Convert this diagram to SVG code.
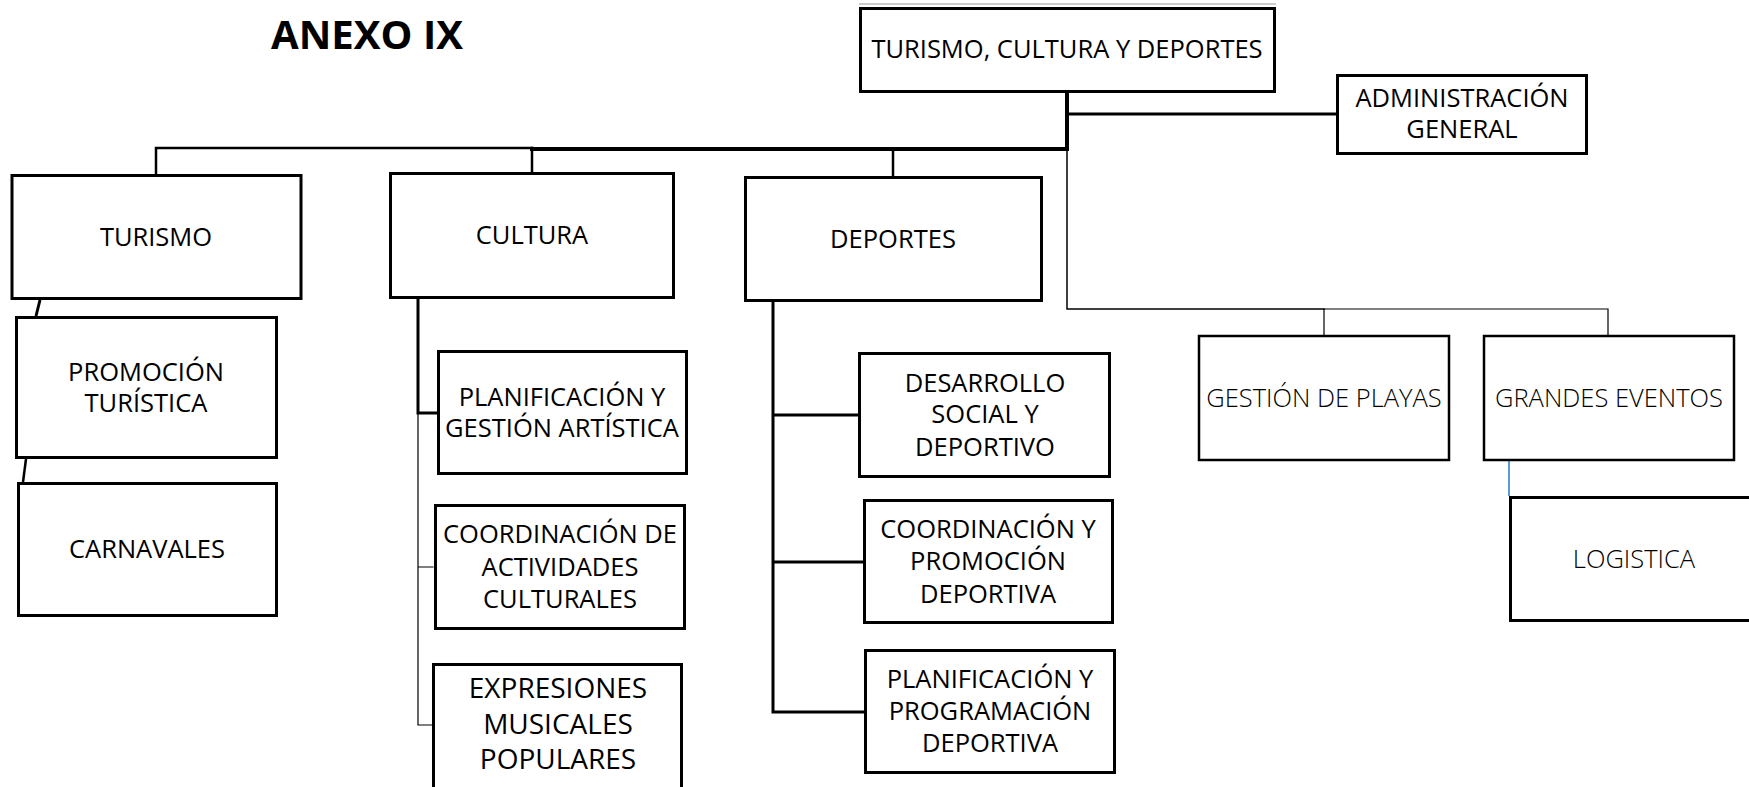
<svg xmlns="http://www.w3.org/2000/svg" width="1749" height="787" viewBox="0 0 1749 787">
<style>
.box{fill:#fff;stroke:#000;stroke-width:3}
.boxt{fill:#fff;stroke:#000;stroke-width:2.5}
.t{font-family:"Open Sans","Liberation Sans",sans-serif;font-size:25.5px;fill:#000;text-anchor:middle}
.tb{font-size:28px}
.tl{font-family:"Open Sans","Liberation Sans",sans-serif;font-size:25.5px;font-weight:300;fill:#000;text-anchor:middle}
.title{font-family:"Open Sans","Liberation Sans",sans-serif;font-size:40px;font-weight:bold;fill:#000}
.c{fill:none;stroke:#000;stroke-linecap:square}
</style>
<rect width="1749" height="787" fill="#fff"/>
<text class="title" x="271" y="49" textLength="192" lengthAdjust="spacingAndGlyphs">ANEXO IX</text>
<g id="connectors">
<line x1="859" y1="4" x2="1276" y2="4" stroke="#999" stroke-width="1"/>
<path class="c" d="M156,174 V148 H532" stroke-width="2.5"/>
<path class="c" d="M532,172 V148" stroke-width="2.5"/>
<path class="c" d="M1067,93 V149 H532" stroke-width="4"/>
<path class="c" d="M893,176 V150" stroke-width="2.5"/>
<path class="c" d="M1067,114 H1336" stroke-width="3"/>
<path class="c" d="M1067,150 V309 H1324" stroke-width="1.5"/>
<path class="c" d="M1324,335 V309 H1608 V335" stroke-width="1.2"/>
<line x1="1509" y1="461" x2="1509" y2="496" stroke="#5b9bd5" stroke-width="2"/>
<line x1="40" y1="300" x2="36" y2="316" stroke="#000" stroke-width="3"/>
<line x1="26" y1="459" x2="23" y2="482" stroke="#000" stroke-width="2.5"/>
<path class="c" d="M418,299 V413 H437" stroke-width="3"/>
<path class="c" d="M418,413 V725 H432 M418,567 H433" stroke-width="1.2"/>
<path class="c" d="M773,302 V712 H864 M773,415 H858 M773,562 H863" stroke-width="3"/>
</g>
<g id="n-root"><rect class="box" x="860.5" y="8.5" width="414" height="83"/><text class="t" x="1067" y="58">TURISMO, CULTURA Y DEPORTES</text></g>
<g id="n-admin"><rect class="box" x="1337.5" y="75.5" width="249" height="78"/><text class="t" x="1462" y="107">ADMINISTRACIÓN</text><text class="t" x="1462" y="138">GENERAL</text></g>
<g id="n-turismo"><rect class="box" x="12" y="175.5" width="289" height="123"/><text class="t" x="156" y="246">TURISMO</text></g>
<g id="n-cultura"><rect class="box" x="390.5" y="173.5" width="283" height="124"/><text class="t" x="532" y="244">CULTURA</text></g>
<g id="n-deportes"><rect class="box" x="745.5" y="177.5" width="296" height="123"/><text class="t" x="893" y="248">DEPORTES</text></g>
<g id="n-playas"><rect class="boxt" x="1199" y="336" width="250" height="124"/><text class="tl" x="1324" y="407">GESTIÓN DE PLAYAS</text></g>
<g id="n-eventos"><rect class="boxt" x="1484" y="336" width="250" height="124"/><text class="tl" x="1609" y="407">GRANDES EVENTOS</text></g>
<g id="n-logistica"><rect class="box" x="1510.5" y="497.5" width="300" height="123"/><text class="tl" x="1634" y="568">LOGISTICA</text></g>
<g id="n-promocion"><rect class="box" x="16.5" y="317.5" width="260" height="140"/><text class="t" x="146" y="381">PROMOCIÓN</text><text class="t" x="146" y="412">TURÍSTICA</text></g>
<g id="n-carnavales"><rect class="box" x="18.5" y="483.5" width="258" height="132"/><text class="t" x="147" y="558">CARNAVALES</text></g>
<g id="n-planif-art"><rect class="box" x="438.5" y="351.5" width="248" height="122"/><text class="t" x="562" y="406">PLANIFICACIÓN Y</text><text class="t" x="562" y="437">GESTIÓN ARTÍSTICA</text></g>
<g id="n-coord-act"><rect class="box" x="435.5" y="505.5" width="249" height="123"/><text class="t" x="560" y="543">COORDINACIÓN DE</text><text class="t" x="560" y="576">ACTIVIDADES</text><text class="t" x="560" y="608">CULTURALES</text></g>
<g id="n-expresiones"><rect class="box" x="433.5" y="664.5" width="248" height="140"/><text class="t tb" x="558" y="698">EXPRESIONES</text><text class="t tb" x="558" y="734">MUSICALES</text><text class="t tb" x="558" y="769">POPULARES</text></g>
<g id="n-desarrollo"><rect class="box" x="859.5" y="353.5" width="250" height="123"/><text class="t" x="985" y="392">DESARROLLO</text><text class="t" x="985" y="423">SOCIAL Y</text><text class="t" x="985" y="456">DEPORTIVO</text></g>
<g id="n-coord-dep"><rect class="box" x="864.5" y="500.5" width="248" height="122"/><text class="t" x="988" y="538">COORDINACIÓN Y</text><text class="t" x="988" y="570">PROMOCIÓN</text><text class="t" x="988" y="603">DEPORTIVA</text></g>
<g id="n-planif-dep"><rect class="box" x="865.5" y="650.5" width="249" height="122"/><text class="t" x="990" y="688">PLANIFICACIÓN Y</text><text class="t" x="990" y="720">PROGRAMACIÓN</text><text class="t" x="990" y="752">DEPORTIVA</text></g>
</svg>
